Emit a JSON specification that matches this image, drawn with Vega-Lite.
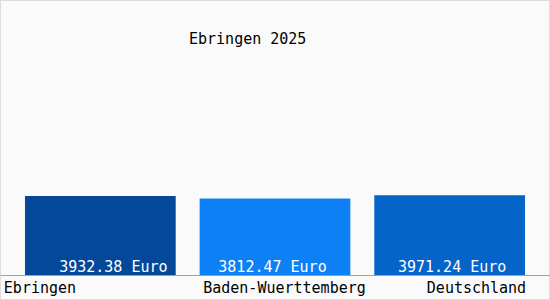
{
  "$schema": "https://vega.github.io/schema/vega-lite/v6.json",
  "width": 550,
  "height": 300,
  "autosize": {"type": "none"},
  "padding": 0,
  "background": "#fafafa",
  "config": {
    "view": {"stroke": "#dddddd", "strokeWidth": 2},
    "font": "DejaVu Sans Mono"
  },
  "title": {
    "text": "Ebringen 2025",
    "anchor": "start",
    "frame": "group",
    "orient": "top",
    "offset": 0,
    "baseline": "alphabetic",
    "dx": 189,
    "dy": 59,
    "font": "DejaVu Sans Mono",
    "fontSize": 15,
    "fontWeight": "normal",
    "color": "#000000"
  },
  "data": {
    "values": [
      {"region": "Ebringen", "value": 3932.38, "label": "3932.38 Euro"},
      {"region": "Baden-Wuerttemberg", "value": 3812.47, "label": "3812.47 Euro"},
      {"region": "Deutschland", "value": 3971.24, "label": "3971.24 Euro"}
    ]
  },
  "encoding": {
    "x": {
      "field": "region",
      "type": "nominal",
      "sort": null,
      "scale": {"paddingInner": 0.137, "paddingOuter": 0.143},
      "axis": {
        "title": null,
        "orient": "bottom",
        "offset": -25,
        "ticks": false,
        "tickSize": 0,
        "labelAngle": 0,
        "labelFont": "DejaVu Sans Mono",
        "labelFontSize": 15,
        "labelColor": "#000000",
        "labelBaseline": "alphabetic",
        "labelPadding": 17,
        "labelOverlap": false,
        "labelFlush": false,
        "labelBound": false,
        "domainColor": "#a0a0a0",
        "domainWidth": 1,
        "labelAlign": {
          "condition": [
            {"test": "datum.value === 'Ebringen'", "value": "left"},
            {"test": "datum.value === 'Deutschland'", "value": "right"}
          ],
          "value": "center"
        },
        "labelOffset": {
          "condition": [
            {"test": "datum.value === 'Ebringen'", "value": -96.5},
            {"test": "datum.value === 'Deutschland'", "value": 76.5}
          ],
          "value": 9.5
        }
      }
    }
  },
  "layer": [
    {
      "mark": {"type": "bar"},
      "encoding": {
        "y": {
          "field": "value",
          "type": "quantitative",
          "scale": {"domain": [-1244, 13688], "zero": false, "nice": false},
          "axis": null
        },
        "y2": {"datum": 0},
        "color": {
          "field": "region",
          "type": "nominal",
          "scale": {
            "domain": ["Ebringen", "Baden-Wuerttemberg", "Deutschland"],
            "range": ["#04489a", "#0e80f6", "#0564c8"]
          },
          "legend": null
        }
      }
    },
    {
      "transform": [{"filter": "datum.region === 'Ebringen'"}],
      "mark": {"type": "text", "color": "#ffffff", "font": "DejaVu Sans Mono", "fontSize": 15, "baseline": "alphabetic", "align": "center", "dx": 13, "dy": -3},
      "encoding": {"y": {"datum": 0}, "text": {"field": "label"}}
    },
    {
      "transform": [{"filter": "datum.region === 'Baden-Wuerttemberg'"}],
      "mark": {"type": "text", "color": "#ffffff", "font": "DejaVu Sans Mono", "fontSize": 15, "baseline": "alphabetic", "align": "center", "dx": -2.5, "dy": -3},
      "encoding": {"y": {"datum": 0}, "text": {"field": "label"}}
    },
    {
      "transform": [{"filter": "datum.region === 'Deutschland'"}],
      "mark": {"type": "text", "color": "#ffffff", "font": "DejaVu Sans Mono", "fontSize": 15, "baseline": "alphabetic", "align": "center", "dx": 2.5, "dy": -3},
      "encoding": {"y": {"datum": 0}, "text": {"field": "label"}}
    }
  ]
}
